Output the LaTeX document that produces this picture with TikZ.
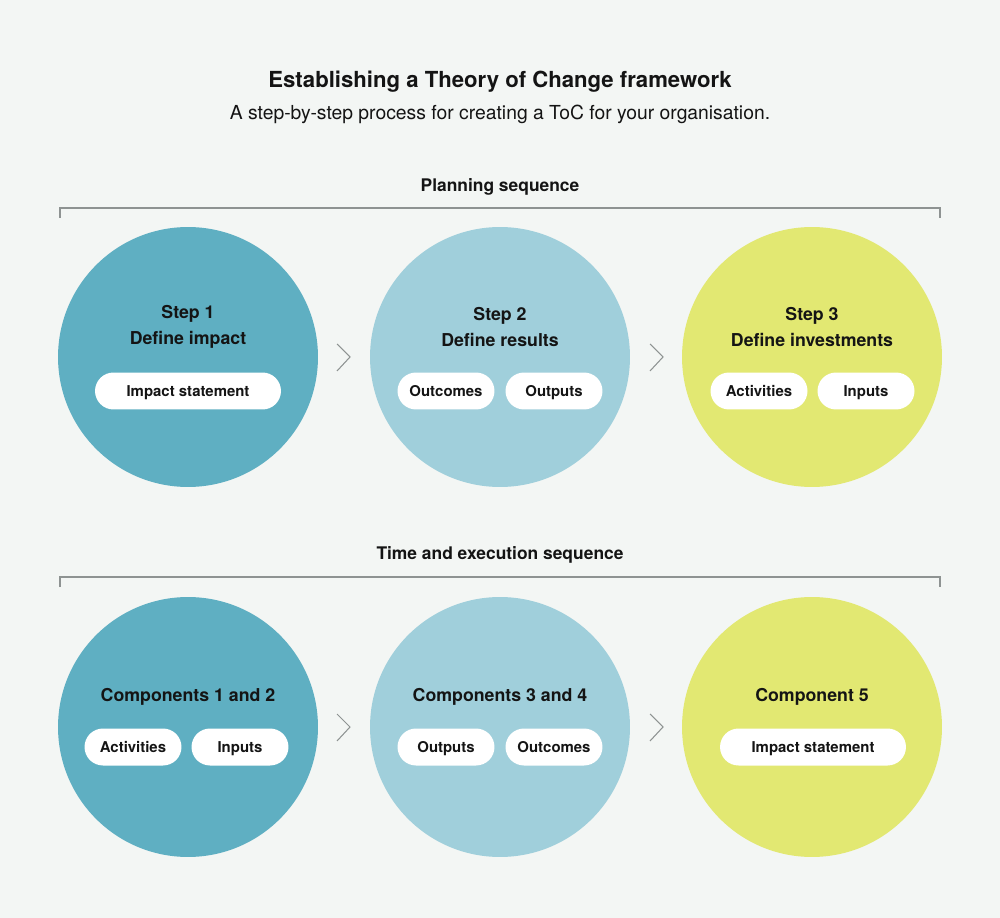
\documentclass[tikz,border=0pt]{standalone}
\usepackage{fontspec}
\setmainfont{TeX Gyre Heros}
\usepackage{xcolor}
\usetikzlibrary{positioning}

\definecolor{bgpaper}{HTML}{F3F6F4}
\definecolor{tealdeep}{HTML}{5FAFC2}
\definecolor{tealpale}{HTML}{A0CFDB}
\definecolor{limesoft}{HTML}{E2E872}
\definecolor{inkdark}{HTML}{141414}
\definecolor{rulegrey}{HTML}{8E9392}

\begin{document}
\begin{tikzpicture}[x=0.02cm, y=-0.02cm, text=inkdark,
  stepdisc/.style={circle, minimum size=5.2cm, inner sep=0pt},
  pill/.style={fill=white, rounded corners=0.37cm, minimum height=0.74cm,
    minimum width=1.94cm, inner sep=0pt, text height=1.6ex, text depth=0.45ex,
    font=\fontsize{8.5}{10}\selectfont\bfseries},
  widepill/.style={pill, minimum width=3.72cm},
  head/.style={font=\fontsize{10.1}{14.7}\selectfont\bfseries, align=center},
  seqlabel/.style={font=\fontsize{9.9}{11}\selectfont\bfseries},
  chev/.style={draw=rulegrey, line width=0.6pt},
  bracket/.style={draw=rulegrey, line width=0.7pt}]
  \useasboundingbox[fill=bgpaper] (0,0) rectangle (1000,918);

  % Title
  \node[font=\fontsize{12.6}{14}\selectfont\bfseries] (title) at (500,82)
    {Establishing a Theory of Change framework};
  \node[font=\fontsize{11}{13}\selectfont] (subtitle) at (500,114)
    {A step-by-step process for creating a ToC for your organisation.};

  % Planning sequence
  \node[seqlabel] (plan) at (500,187) {Planning sequence};
  \draw[bracket] (60,218) -- (60,208) -- (940,208) -- (940,218);

  \node[stepdisc, fill=tealdeep] (s1) at (188,357) {};
  \node[stepdisc, fill=tealpale] (s2) at (500,357) {};
  \node[stepdisc, fill=limesoft] (s3) at (812,357) {};

  \node[head] (s1h) at (188,327) {Step 1\\Define impact};
  \node[head] (s2h) at (500,327) {Step 2\\Define results};
  \node[head] (s3h) at (812,327) {Step 3\\Define investments};

  \node[widepill] (s1a) at (188,391) {Impact statement};
  \node[pill] (s2a) at (446,391) {Outcomes};
  \node[pill] (s2b) at (554,391) {Outputs};
  \node[pill] (s3a) at (759,391) {Activities};
  \node[pill] (s3b) at (866,391) {Inputs};

  \draw[chev] (337,344) -- (350,357) -- (337,371);
  \draw[chev] (650,344) -- (663,357) -- (650,371);

  % Time and execution sequence
  \node[seqlabel] (exec) at (500,555) {Time and execution sequence};
  \draw[bracket] (60,587) -- (60,577) -- (940,577) -- (940,587);

  \node[stepdisc, fill=tealdeep] (c1) at (188,727) {};
  \node[stepdisc, fill=tealpale] (c2) at (500,727) {};
  \node[stepdisc, fill=limesoft] (c3) at (812,727) {};

  \node[head] (c1h) at (188,697) {Components 1 and 2};
  \node[head] (c2h) at (500,697) {Components 3 and 4};
  \node[head] (c3h) at (812,697) {Component 5};

  \node[pill] (c1a) at (133,747) {Activities};
  \node[pill] (c1b) at (240,747) {Inputs};
  \node[pill] (c2a) at (446,747) {Outputs};
  \node[pill] (c2b) at (554,747) {Outcomes};
  \node[widepill] (c3a) at (813,747) {Impact statement};

  \draw[chev] (337,714) -- (350,727) -- (337,741);
  \draw[chev] (650,714) -- (663,727) -- (650,741);
\end{tikzpicture}
\end{document}
